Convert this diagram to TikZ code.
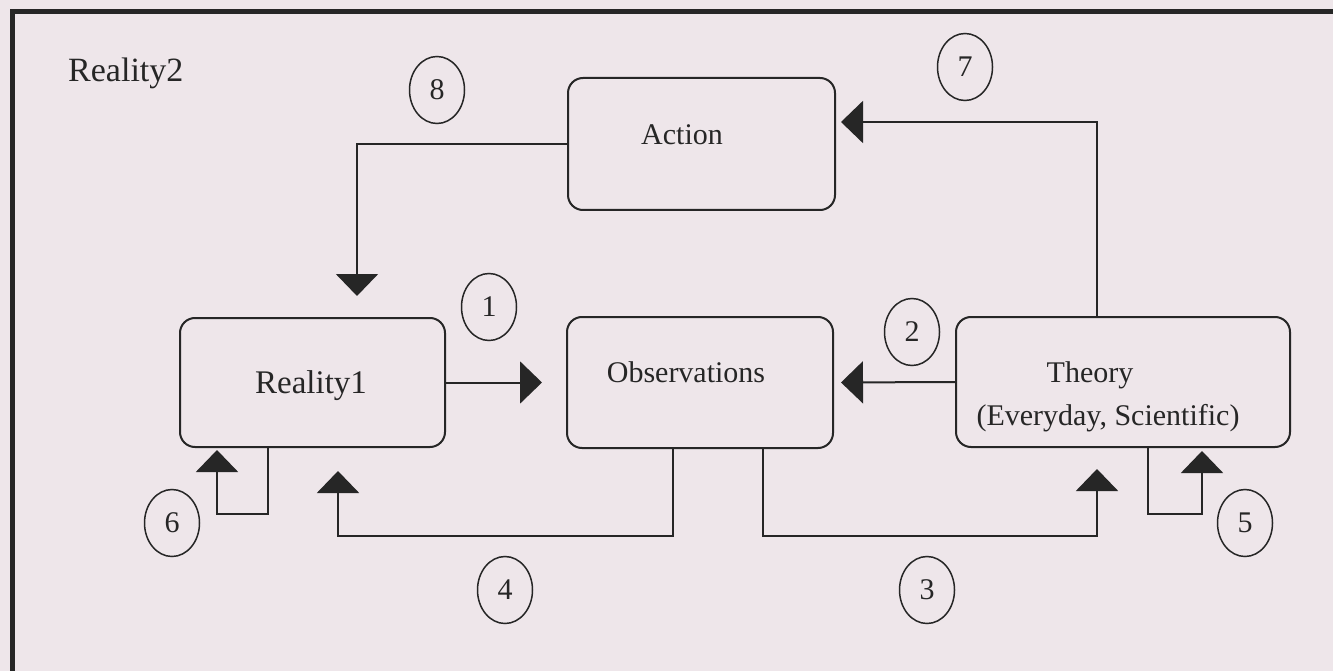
\documentclass[tikz,border=0pt]{standalone}
\usepackage{fontspec}
\setmainfont{Liberation Serif}
\usetikzlibrary{arrows.meta,shapes.geometric,calc}
\definecolor{bg}{RGB}{238,230,234}
\definecolor{ink}{RGB}{38,38,38}
\begin{document}
\begin{tikzpicture}[x=1pt,y=-1pt,
  box/.style={draw=ink,line width=2pt,rounded corners=15pt,inner sep=0pt},
  conn/.style={draw=ink,line width=2pt,-{Triangle[length=22pt,width=42pt]}},
  num/.style={ellipse,draw=ink,line width=1.5pt,minimum width=55pt,minimum height=67pt,inner sep=0pt,text=ink,font=\fontsize{30}{30}\selectfont},
  lbl/.style={anchor=base,inner sep=0pt,text=ink,font=\fontsize{30}{36}\selectfont}]
\fill[bg] (0,0) rectangle (1333,671);
\useasboundingbox (0,0) rectangle (1333,671);
\draw[ink,line width=5pt] (12,671) -- (12,12) -- (1333,12);
% boxes
\node[box,minimum width=265pt,minimum height=129pt] (real1) at (312.5,382.5) {};
\node[box,minimum width=266pt,minimum height=131pt] (obs) at (700,382.5) {};
\node[box,minimum width=334pt,minimum height=130pt] (theory) at (1123,382) {};
\node[box,minimum width=267pt,minimum height=132pt] (action) at (701.5,144) {};
% texts
\node[lbl,anchor=base west,font=\fontsize{34}{40}\selectfont] (r2) at (68,82) {Reality2};
\node[lbl,font=\fontsize{33}{40}\selectfont] (r1t) at (311,393) {Reality1};
\node[lbl] (obst) at (686,382) {Observations};
\node[lbl] (tht) at (1090,382) {Theory};
\node[lbl] (tht2) at (1108,425) {(Everyday, Scientific)};
\node[lbl] (actt) at (682,145) {Action};
% numbers
\node[num] (n1) at (489,307) {1};
\node[num] (n2) at (912,332) {2};
\node[num] (n3) at (927,590) {3};
\node[num] (n4) at (505,590) {4};
\node[num] (n5) at (1245,523) {5};
\node[num] (n6) at (172,523) {6};
\node[num] (n7) at (965,67) {7};
\node[num] (n8) at (437,90) {8};
% connectors
\draw[conn,shorten >=24pt] (real1.east) -- (obs.west);
\draw[conn,shorten >=7pt] (theory.west) -- (obs.east);
\draw[conn,shorten >=5pt] ($(theory.north)+(-26,0)$) |- ($(action.east)+(0,-22)$);
\draw[conn,shorten >=21pt] (action.west) -| ($(real1.north)+(44.5,0)$);
\draw[conn,shorten >=21pt] ($(obs.south)+(63,0)$) -- ++(0,87) -| ($(theory.south)+(-26,0)$);
\draw[conn,shorten >=23pt] ($(obs.south)+(-27,0)$) -- ++(0,87) -| ($(real1.south)+(25.5,0)$);
\draw[conn,shorten >=3pt] ($(theory.south)+(25,0)$) -- ++(0,66) -| ($(theory.south)+(79,0)$);
\draw[conn,shorten >=2pt] ($(real1.south)+(-44.5,0)$) -- ++(0,66) -| ($(real1.south)+(-95.5,0)$);
\end{tikzpicture}
\end{document}
